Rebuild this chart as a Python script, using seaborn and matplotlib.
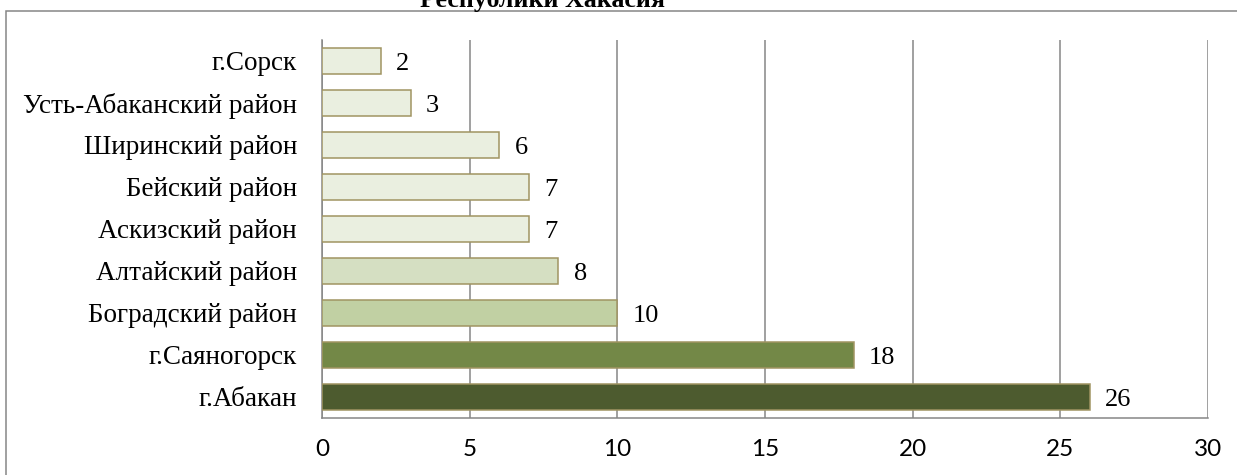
import numpy as np
import pandas as pd
import matplotlib.pyplot as plt
import seaborn as sns
from matplotlib.patches import Rectangle

# --- data ---
districts = ['г.Сорск', 'Усть-Абаканский район', 'Ширинский район', 'Бейский район',
             'Аскизский район', 'Алтайский район', 'Боградский район',
             'г.Саяногорск', 'г.Абакан']
counts = [2, 3, 6, 7, 7, 8, 10, 18, 26]
bar_colors = ['#EBF1DE', '#EBF1DE', '#EBF1DE', '#EBF1DE', '#EBF1DE',
              '#D7E4BD', '#C4D79B', '#77933C', '#4F6228']
x_ticks = [0, 5, 10, 15, 20, 25, 30]
title = 'Республики Хакасия'

sns.set_style('white')
plt.rcParams['font.family'] = ['Liberation Serif', 'DejaVu Serif']
plt.rcParams['text.color'] = 'black'
plt.rcParams['xtick.labelcolor'] = 'black'
plt.rcParams['ytick.labelcolor'] = 'black'

df = pd.DataFrame({'district': districts, 'count': counts})

fig = plt.figure(figsize=(12.37, 4.75), dpi=100)
ax = fig.add_axes([322 / 1237, 57 / 475, 886 / 1237, 378 / 475])

grid_col = '#868686'

sns.barplot(data=df, x='count', y='district', hue='district', palette=bar_colors,
            order=districts, hue_order=districts, orient='h', width=0.6,
            edgecolor='#A09462', linewidth=1.1, legend=False, ax=ax, zorder=3)

ax.set_xlim(0, 30)
ax.set_ylim(len(districts) - 0.5, -0.5)
ax.set_xticks(x_ticks)
ax.set_xticklabels([str(t) for t in x_ticks], family=['Lato', 'DejaVu Sans'], fontsize=17.5)
ax.tick_params(axis='x', direction='out', length=5, width=1.1, color=grid_col, pad=10)
ax.tick_params(axis='y', which='major', length=0, labelsize=19.5, pad=18)
ax.set_yticks(np.arange(-0.5, len(districts), 1), minor=True)
ax.tick_params(axis='y', which='minor', direction='out', length=6, width=1.1, color=grid_col)
ax.xaxis.grid(True, color=grid_col, linewidth=1.1, zorder=0)
ax.set_axisbelow(True)
ax.set_xlabel('')
ax.set_ylabel('')

for side in ['top', 'right']:
    ax.spines[side].set_visible(False)
for side in ['left', 'bottom']:
    ax.spines[side].set_color(grid_col)
    ax.spines[side].set_linewidth(1.1)

for i, v in enumerate(counts):
    ax.annotate(str(v), xy=(v, i), xytext=(11, 0), textcoords='offset points',
                va='center_baseline', ha='left', fontsize=19)

# chart frame (top-left corner visible only)
fig.patches.append(Rectangle((6 / 1237, -0.1), 1.2, 1 - 11 / 475 + 0.1,
                             transform=fig.transFigure, fill=False,
                             edgecolor=grid_col, linewidth=1.1))

# title sits above the frame and is cut off at the top, as in the reference
fig.text(543 / 1237, 1 - 7.5 / 475, title, ha='center', va='baseline',
         fontsize=18.7, fontweight='bold')

fig.savefig('out.png', dpi=100)
